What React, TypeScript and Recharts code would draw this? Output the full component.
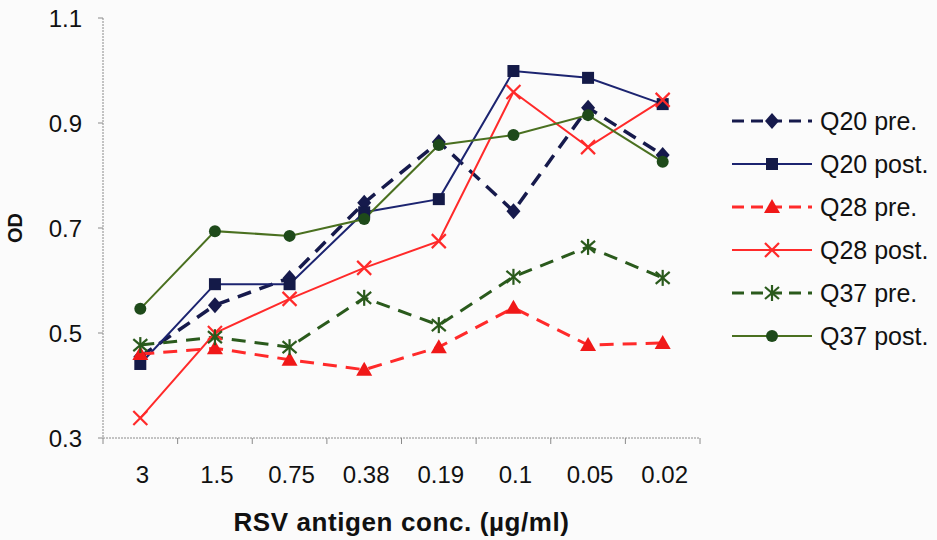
import React from "react";
import { LineChart, Line, XAxis, YAxis, Label } from "recharts";

const categories = ["3", "1.5", "0.75", "0.38", "0.19", "0.1", "0.05", "0.02"];
const q20Pre = [0.455, 0.553, 0.605, 0.748, 0.864, 0.732, 0.929, 0.839];
const q20Post = [0.441, 0.593, 0.593, 0.73, 0.755, 0.999, 0.986, 0.936];
const q28Pre = [0.46, 0.471, 0.449, 0.43, 0.473, 0.548, 0.477, 0.481];
const q28Post = [0.338, 0.5, 0.565, 0.624, 0.675, 0.959, 0.854, 0.944];
const q37Pre = [0.477, 0.492, 0.473, 0.567, 0.515, 0.607, 0.664, 0.605];
const q37Post = [0.546, 0.694, 0.685, 0.717, 0.858, 0.877, 0.915, 0.826];
const yTicks = [0.3, 0.5, 0.7, 0.9, 1.1];

const data = categories.map((c, i) => ({
  conc: c,
  q20Pre: q20Pre[i],
  q20Post: q20Post[i],
  q28Pre: q28Pre[i],
  q28Post: q28Post[i],
  q37Pre: q37Pre[i],
  q37Post: q37Post[i],
}));

type Shape = "diamond" | "square" | "triangle" | "x" | "star" | "circle";

const series: {
  key: string;
  name: string;
  color: string;
  fill: string;
  dashed: boolean;
  width: number;
  shape: Shape;
}[] = [
  { key: "q20Pre", name: "Q20 pre.", color: "#161a4c", fill: "#161a4c", dashed: true, width: 3.5, shape: "diamond" },
  { key: "q20Post", name: "Q20 post.", color: "#1c2470", fill: "#141a48", dashed: false, width: 2, shape: "square" },
  { key: "q28Pre", name: "Q28 pre.", color: "#ff2a2a", fill: "#f01818", dashed: true, width: 3, shape: "triangle" },
  { key: "q28Post", name: "Q28 post.", color: "#ff2a2a", fill: "#ff2a2a", dashed: false, width: 2, shape: "x" },
  { key: "q37Pre", name: "Q37 pre.", color: "#2a5a1c", fill: "#2a5a1c", dashed: true, width: 3, shape: "star" },
  { key: "q37Post", name: "Q37 post.", color: "#4a7020", fill: "#1e4a1a", dashed: false, width: 2, shape: "circle" },
];

function marker(shape: Shape, x: number, y: number, color: string, fill: string) {
  switch (shape) {
    case "diamond":
      return <polygon points={`${x},${y - 8} ${x + 7},${y} ${x},${y + 8} ${x - 7},${y}`} fill={fill} />;
    case "square":
      return <rect x={x - 6} y={y - 6} width={12} height={12} fill={fill} />;
    case "triangle":
      return <polygon points={`${x},${y - 8} ${x + 8},${y + 6} ${x - 8},${y + 6}`} fill={fill} />;
    case "x":
      return (
        <g stroke={color} strokeWidth={2.2}>
          <line x1={x - 7} y1={y - 7} x2={x + 7} y2={y + 7} />
          <line x1={x - 7} y1={y + 7} x2={x + 7} y2={y - 7} />
        </g>
      );
    case "star":
      return (
        <g stroke={color} strokeWidth={2.2}>
          <line x1={x} y1={y - 8} x2={x} y2={y + 8} />
          <line x1={x - 7} y1={y - 6} x2={x + 7} y2={y + 6} />
          <line x1={x - 7} y1={y + 6} x2={x + 7} y2={y - 6} />
        </g>
      );
    default:
      return <circle cx={x} cy={y} r={6} fill={fill} />;
  }
}

const dotFor = (shape: Shape, color: string, fill: string) => (props: any) => {
  const { cx, cy, index } = props;
  if (cx == null || cy == null) return <g key={index} />;
  return <g key={index}>{marker(shape, cx, cy, color, fill)}</g>;
};

const font = "'Liberation Sans', Arial, sans-serif";
const axisStroke = "#8a8a8a";

const XTick = (props: any) => {
  const { x, y, payload, index } = props;
  const half = payload.offset || 37.3;
  return (
    <g>
      <line x1={x - half} y1={y - 8} x2={x - half} y2={y - 2} stroke={axisStroke} strokeWidth={1} />
      {index === categories.length - 1 && (
        <line x1={x + half} y1={y - 8} x2={x + half} y2={y - 2} stroke={axisStroke} strokeWidth={1} />
      )}
      <text x={x + 2} y={y + 37} textAnchor="middle" fontSize={24} fill="#111" fontFamily={font}>
        {payload.value}
      </text>
    </g>
  );
};

export default function App() {
  return (
    <div style={{ position: "absolute", left: 0, top: 0, width: 937, height: 540, background: "#fbfbfb" }}>
      <LineChart width={937} height={540} data={data} margin={{ top: 18, right: 237, left: 0, bottom: 0 }}>
        <XAxis
          dataKey="conc"
          scale="band"
          height={102}
          tick={<XTick />}
          tickLine={false}
          interval={0}
          axisLine={{ stroke: axisStroke, strokeDasharray: "2 1" }}
        >
          <Label
            value="RSV antigen conc. (µg/ml)"
            position="insideBottom"
            offset={9}
            style={{ fontFamily: font, fontWeight: "bold", fontSize: 26, letterSpacing: 0.6, fill: "#111" }}
          />
        </XAxis>
        <YAxis
          width={103}
          domain={[0.3, 1.1]}
          ticks={yTicks}
          interval={0}
          tickFormatter={(v: number) => v.toFixed(1)}
          tick={{ fontSize: 24, fill: "#111", fontFamily: font }}
          tickLine={{ stroke: axisStroke }}
          tickSize={5}
          tickMargin={16}
          axisLine={{ stroke: axisStroke, strokeDasharray: "2 1" }}
        >
          <Label
            value="OD"
            angle={-90}
            position="insideLeft"
            offset={15}
            style={{ fontFamily: font, fontWeight: "bold", fontSize: 20, fill: "#111", textAnchor: "middle" }}
          />
        </YAxis>
        {series.map((s) => (
          <Line
            key={s.key}
            type="linear"
            dataKey={s.key}
            name={s.name}
            stroke={s.color}
            strokeWidth={s.width}
            strokeDasharray={s.dashed ? "14 9" : undefined}
            dot={dotFor(s.shape, s.color, s.fill)}
            activeDot={false}
            isAnimationActive={false}
          />
        ))}
      </LineChart>
      <svg style={{ position: "absolute", left: 725, top: 100 }} width={212} height={260}>
        {series.map((s, i) => {
          const y = 21 + i * 43;
          return (
            <g key={s.key}>
              <line
                x1={7}
                y1={y}
                x2={87}
                y2={y}
                stroke={s.color}
                strokeWidth={s.dashed ? 3 : 2}
                strokeDasharray={s.dashed ? "12 7" : undefined}
              />
              {marker(s.shape, 47, y, s.color, s.fill)}
              <text x={95} y={y + 9} fontSize={25} fill="#111" fontFamily={font}>
                {s.name}
              </text>
            </g>
          );
        })}
      </svg>
    </div>
  );
}
